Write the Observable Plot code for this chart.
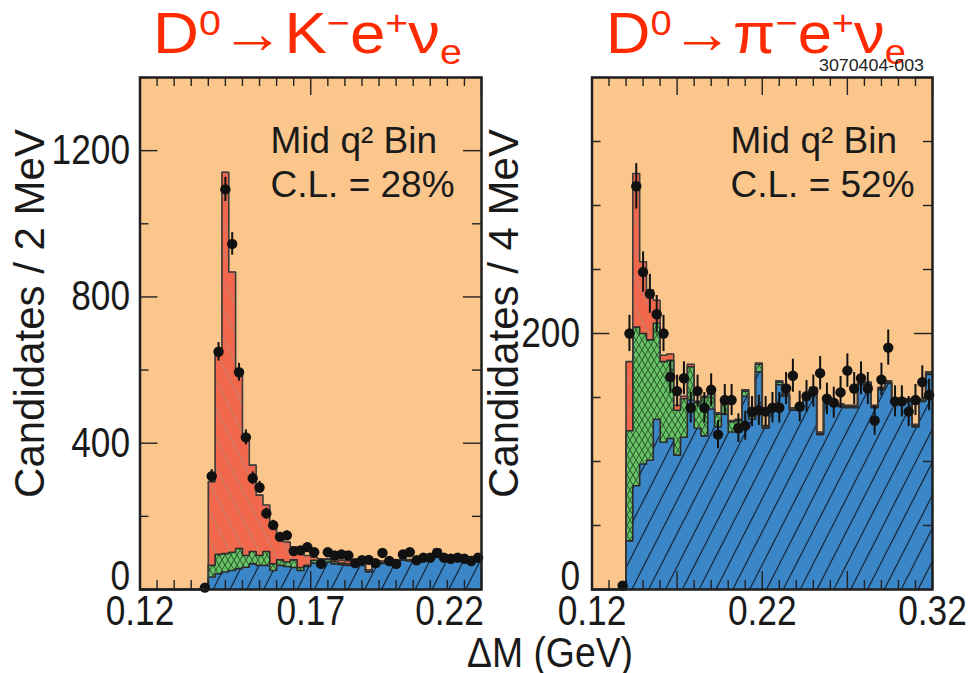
<!DOCTYPE html>
<html><head><meta charset="utf-8">
<script src="https://cdn.jsdelivr.net/npm/d3@7"></script>
<script src="https://cdn.jsdelivr.net/npm/@observablehq/plot@0.6"></script>
<style>
html,body{margin:0;padding:0;background:#fff;}
#wrap{position:relative;width:972px;height:673px;overflow:hidden;font-family:"Liberation Sans",Arial,Helvetica,sans-serif;background:#fff;}
.abs{position:absolute;white-space:nowrap;line-height:1;}
.title{color:#ff2a00;font-size:58px;transform-origin:0 0;}
.sup{position:relative;font-size:0.62em;top:-0.5em;}
.sub{position:relative;font-size:0.62em;top:0.3em;}
.arrow{font-weight:bold;}
svg{overflow:visible;}
</style></head><body>
<div id="wrap">
<svg width="0" height="0" style="position:absolute;left:0;top:0">
 <defs>
  <pattern id="hBlue" patternUnits="userSpaceOnUse" width="15" height="15" patternTransform="rotate(27)">
   <rect width="15" height="15" fill="#3b86c6"/>
   <line x1="7.5" y1="0" x2="7.5" y2="15" stroke="#101828" stroke-width="1.1"/>
  </pattern>
  <pattern id="hRed" patternUnits="userSpaceOnUse" width="13" height="13" patternTransform="rotate(-27)">
   <rect width="13" height="13" fill="#f0674b"/>
   <line x1="6.5" y1="0" x2="6.5" y2="13" stroke="#b98a7a" stroke-width="0.8"/>
  </pattern>
  <pattern id="hGreen" patternUnits="userSpaceOnUse" width="6" height="10">
   <rect width="6" height="10" fill="#66c266"/>
   <path d="M0,0 L3,5 L0,10 M6,0 L3,5 L6,10" stroke="#1c3a1c" stroke-width="0.8" fill="none"/>
  </pattern>
 </defs>
</svg>
<div id="left" class="abs" style="left:0;top:0"></div>
<div id="right" class="abs" style="left:486px;top:0"></div>
<div id="t1" class="abs title" style="left:153px;top:4px">D<span class="sup">0</span><span class="arrow">→</span>K<span class="sup">−</span>e<span class="sup">+</span>ν<span class="sub">e</span></div>
<div id="t2" class="abs title" style="left:606px;top:4px">D<span class="sup">0</span><span class="arrow">→</span>π<span class="sup">−</span>e<span class="sup">+</span>ν<span class="sub">e</span></div>
<div id="code" class="abs" style="left:819px;top:57px;font-size:17px;color:#222;transform-origin:0 0;">3070404-003</div>
<div id="xlab" class="abs" style="left:467px;top:631px;font-size:43px;color:#1a1a1a;transform-origin:0 0;">ΔM (GeV)</div>
</div>
<script>
// ---------------- data ----------------
const leftStart = 0.12, leftBinWidth = 0.002;      // 2 MeV bins
const rightStart = 0.12, rightBinWidth = 0.004;    // 4 MeV bins

// K- e+ nu panel: stacked components per bin (background, other D decays, signal), and data
const leftBkg = [0,0,0,0,0,0,0,0,0,0,
  34,43,48,52,57,61,70,66,66,52,
  66,63,60,52,63,72,75,75,70,68,
  66,68,66,48,71,71,72,75,80,78,
  80,80,84,108,86,84,86,85,84,88];
const leftOther = [0,0,0,0,0,0,0,0,0,0,
  32,53,50,50,55,32,34,27,38,18,
  15,12,21,8,3,8,5,7,6,4,
  4,3,2,2,2,2,2,1,1,1,
  1,1,1,1,1,1,1,1,1,1];
const leftSignal = [0,0,0,0,0,0,0,0,0,0,
  229,556,1043,766,489,330,236,165,127,105,
  69,55,35,42,27,8,4,2,6,8,
  8,6,7,4,5,5,4,4,3,3,
  2,2,2,1,2,2,1,1,1,1];
const leftData = [null,null,null,null,null,null,null,null,null,5,
  310,650,1094,945,594,416,304,279,208,176,
  144,148,105,107,116,102,70,102,93,96,
  93,72,80,81,72,100,78,70,96,102,
  80,87,87,100,87,84,87,84,78,87];

// pi- e+ nu panel
const rightBkg = [0,0,0,0,0,
  38,81,98,101,133,
  115,118,105,119,148,126,120,141,127,137,
  123,123,151,133,170,126,140,160,151,140,
  140,150,156,121,145,145,143,142,142,160,
  160,142,156,161,147,147,147,127,147,168];
const rightOther = [0,0,0,0,0,
  86,124,102,94,75,
  63,61,35,30,26,20,30,12,10,8,
  8,9,4,2,6,1,1,2,1,1,
  1,1,1,1,1,1,1,1,1,1,
  1,1,1,1,1,1,1,1,1,1];
const rightSignal = [0,0,0,0,0,
  54,120,56,39,18,
  5,5,4,2,2,1,1,1,1,1,
  1,1,1,1,1,1,1,1,1,1,
  1,1,1,1,1,1,1,1,1,1,
  1,1,1,1,1,1,1,1,1,1];
const rightData = [null,null,null,null,3,
  200,315,248,231,215,
  200,166,155,165,142,155,142,156,121,148,
  148,126,128,139,140,139,142,142,157,167,
  143,151,155,169,149,146,154,171,157,165,
  157,132,164,189,147,147,139,148,162,152];

// tick labels
const leftXLabels = [0.12, 0.17];
const leftXLastLabel = [0.22];
const leftYLabels = [400, 800, 1200];
const rightXLabels = [0.12, 0.22, 0.32];
const rightYLabels = [200];

const ORANGE = "#fbc68c";
const FONT = '"Liberation Sans", Arial, Helvetica, sans-serif';

function rowsOf(x0, w, bkg, oth, sig) {
  const rows = bkg.map((b, i) => ({x: x0 + w * i, b0: 0, b1: b, g1: b + oth[i], r1: b + oth[i] + sig[i]}));
  const last = rows[rows.length - 1];
  rows.push({...last, x: x0 + w * bkg.length});
  return rows;
}
function pointsOf(x0, w, data) {
  return data.map((v, i) => v == null ? null : {x: x0 + w * (i + 0.5), v}).filter(Boolean);
}
// narrow the tick-label glyphs (the reference uses a condensed face)
function condense(svg, s) {
  svg.querySelectorAll('g[aria-label$="tick label"] text').forEach(el => {
    const w = el.getComputedTextLength();
    if (w > 0) {
      el.setAttribute("textLength", (w * s).toFixed(2));
      el.setAttribute("lengthAdjust", "spacingAndGlyphs");
    }
  });
}

function panel(o) {
  const W = 486, H = 673;
  const PW = W - o.ml - o.mr, PH = H - o.mt - o.mb;
  const rows = rowsOf(o.x0, o.w, o.bkg, o.oth, o.sig);
  const pts = pointsOf(o.x0, o.w, o.data);
  const tickStyle = {stroke: "#222", strokeWidth: 1.4};
  const axisOpts = {tickSize: 0, fontSize: 42, label: null};
  return Plot.plot({
    width: W, height: H,
    marginLeft: o.ml, marginRight: o.mr, marginTop: o.mt, marginBottom: o.mb,
    style: {fontFamily: FONT, color: "#1a1a1a", background: "transparent", overflow: "visible"},
    x: {domain: o.xdom, label: null},
    y: {domain: o.ydom, label: null},
    marks: [
      Plot.frame({fill: ORANGE}),
      Plot.areaY(rows, {x: "x", y1: "b0", y2: "b1", curve: "step-after", fill: "url(#hBlue)"}),
      Plot.areaY(rows, {x: "x", y1: "b1", y2: "g1", curve: "step-after", fill: "url(#hGreen)"}),
      Plot.areaY(rows, {x: "x", y1: "g1", y2: "r1", curve: "step-after", fill: "url(#hRed)"}),
      Plot.line(rows, {x: "x", y: "b1", curve: "step-after", stroke: "#2a2a2a", strokeWidth: 1.6}),
      Plot.line(rows, {x: "x", y: "g1", curve: "step-after", stroke: "#2a2a2a", strokeWidth: 1.6}),
      Plot.line(rows, {x: "x", y: "r1", curve: "step-after", stroke: "#3a3a3a", strokeWidth: 1.6}),
      // inward ticks
      Plot.tickX(o.xMinor, {x: d => d, insetTop: PH - 9, ...tickStyle}),
      Plot.tickX(o.xMajor, {x: d => d, insetTop: PH - 18, ...tickStyle}),
      Plot.tickX(o.xMinor, {x: d => d, insetBottom: PH - 9, ...tickStyle}),
      Plot.tickX(o.xMajor, {x: d => d, insetBottom: PH - 18, ...tickStyle}),
      Plot.tickY(o.yMinor, {y: d => d, insetRight: PW - 9, ...tickStyle}),
      Plot.tickY(o.yMajor, {y: d => d, insetRight: PW - 18, ...tickStyle}),
      Plot.tickY(o.yMinor, {y: d => d, insetLeft: PW - 9, ...tickStyle}),
      Plot.tickY(o.yMajor, {y: d => d, insetLeft: PW - 18, ...tickStyle}),
      // data with error bars
      Plot.ruleX(pts, {x: "x", y1: d => d.v - Math.sqrt(d.v), y2: d => d.v + Math.sqrt(d.v), stroke: "#111", strokeWidth: 2}),
      Plot.dot(pts, {x: "x", y: "v", r: 5.2, fill: "#111", stroke: null}),
      Plot.frame({stroke: "#1e1e1e", strokeWidth: 2.5}),
      // axes labels
      ...o.xAxes.map(a => Plot.axisX(a.ticks, {...axisOpts, anchor: "bottom", tickPadding: 6, dx: a.dx || 0, tickFormat: d => d.toFixed(2)})),
      Plot.axisY(o.yLabels, {...axisOpts, anchor: "left", tickPadding: o.ypad, tickFormat: d => String(d)}),
      Plot.axisY([0], {...axisOpts, anchor: "left", tickPadding: o.ypad, dy: -13, tickFormat: d => String(d)}),
      Plot.text([o.ylabel], {frameAnchor: "left", rotate: -90, dx: o.ylabDx, dy: -20, fontSize: 42, textAnchor: "middle", lineAnchor: "middle", fill: "#1a1a1a"}),
      Plot.text([o.note], {frameAnchor: "top-left", dx: o.noteDx, dy: 45, textAnchor: "start", lineAnchor: "top", fontSize: 37, lineHeight: 1.17, fill: "#1a1a1a"})
    ]
  });
}

const left = panel({
  ml: 139.5, mr: 5, mt: 77, mb: 84,
  x0: leftStart, w: leftBinWidth, bkg: leftBkg, oth: leftOther, sig: leftSignal, data: leftData,
  xdom: [0.12, 0.22], ydom: [0, 1400],
  xMinor: d3.range(0, 21).map(i => 0.12 + 0.005 * i).filter((d, i) => i % 10 !== 0),
  xMajor: [0.12, 0.17, 0.22],
  yMinor: [200, 600, 1000, 1400], yMajor: [0, 400, 800, 1200],
  xAxes: [{ticks: leftXLabels}, {ticks: leftXLastLabel, dx: -32}],
  yLabels: leftYLabels, ypad: 10,
  ylabel: "Candidates / 2 MeV", ylabDx: -109.5,
  note: "Mid q² Bin\nC.L. = 28%", noteDx: 130.5
});
document.getElementById("left").appendChild(left);
condense(left, 0.84);

const right = panel({
  ml: 105.5, mr: 40, mt: 77, mb: 84,
  x0: rightStart, w: rightBinWidth, bkg: rightBkg, oth: rightOther, sig: rightSignal, data: rightData,
  xdom: [0.12, 0.32], ydom: [0, 400],
  xMinor: d3.range(0, 21).map(i => 0.12 + 0.01 * i).filter((d, i) => i % 5 !== 0),
  xMajor: [0.12, 0.17, 0.22, 0.27, 0.32],
  yMinor: [50, 100, 150, 250, 300, 350], yMajor: [0, 200, 400],
  xAxes: [{ticks: rightXLabels}],
  yLabels: rightYLabels, ypad: 12,
  ylabel: "Candidates / 4 MeV", ylabDx: -87.5,
  note: "Mid q² Bin\nC.L. = 52%", noteDx: 138.5
});
document.getElementById("right").appendChild(right);
condense(right, 0.84);

// fit HTML text widths to the reference
function fit(id, width) {
  const el = document.getElementById(id);
  const w = el.getBoundingClientRect().width;
  el.style.transform = `scaleX(${width / w})`;
}
fit("t1", 309);
fit("t2", 300);
fit("code", 105);
fit("xlab", 166);
</script>
</body></html>
